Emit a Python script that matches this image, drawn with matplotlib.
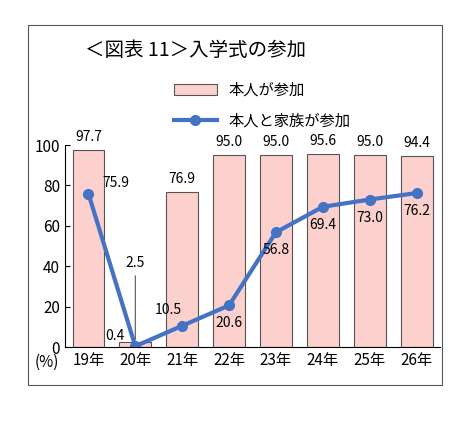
import matplotlib.pyplot as plt
import matplotlib.patches as patches

plt.rcParams['font.family'] = ['Noto Sans CJK JP', 'DejaVu Sans']

years = ["19年", "20年", "21年", "22年", "23年", "24年", "25年", "26年"]
self_only = [97.7, 2.5, 76.9, 95.0, 95.0, 95.6, 95.0, 94.4]
with_family = [75.9, 0.4, 10.5, 20.6, 56.8, 69.4, 73.0, 76.2]

fig = plt.figure(figsize=(4.58, 4.48), dpi=100)
fig.patches.append(patches.Rectangle((28 / 458, 1 - 385 / 448), 414 / 458, 360 / 448,
                                     transform=fig.transFigure, fill=False,
                                     edgecolor='#555555', linewidth=0.8))
ax = fig.add_axes([65 / 458, 101 / 448, 375 / 458, 202 / 448])

x = list(range(len(years)))
bars = ax.bar(x, self_only, width=0.68, color='#fcd0cc', edgecolor='#555555', linewidth=0.8,
              label='本人が参加')
line, = ax.plot(x, with_family, color='#4472c4', linewidth=3, marker='o', markersize=7,
                label='本人と家族が参加')

ax.set_xlim(-0.5, len(years) - 0.5)
ax.set_ylim(0, 100)
ax.set_yticks(range(0, 101, 20))
ax.set_xticks(x)
ax.set_xticklabels(years, fontsize=11)
ax.tick_params(axis='y', labelsize=11, direction='in')
ax.tick_params(axis='x', length=0)
for s in ['top', 'right']:
    ax.spines[s].set_visible(False)

# bar labels
for i, v in enumerate(self_only):
    if i == 1:
        ax.annotate(f"{v:.1f}", xy=(i, v), xytext=(i, 38), ha='center', va='bottom',
                    fontsize=10, arrowprops=dict(arrowstyle='-', color='#555555', lw=0.8))
    else:
        ax.text(i, v + 3, f"{v:.1f}", ha='center', va='bottom', fontsize=10)

# line labels
offsets = [(10, 3, 'left', 'bottom'), (-8, 2, 'right', 'bottom'), (-10, 6, 'center', 'bottom'),
           (0, -8, 'center', 'top'), (0, -8, 'center', 'top'), (0, -8, 'center', 'top'),
           (0, -8, 'center', 'top'), (0, -8, 'center', 'top')]
for i, v in enumerate(with_family):
    dx, dy, ha, va = offsets[i]
    ax.annotate(f"{v:.1f}", xy=(i, v), xytext=(dx, dy), textcoords='offset points',
                ha=ha, va=va, fontsize=10)

fig.text(35 / 458, 1 - 362 / 448, "(%)", fontsize=11, va='center')
fig.text(85 / 458, 1 - 50 / 448, "＜図表 11＞入学式の参加", fontsize=14, va='center')
fig.legend(handles=[bars, line], loc='upper left', bbox_to_anchor=(160 / 458, 1 - 68 / 448),
           frameon=False, fontsize=11, handlelength=2.8, labelspacing=0.9)

fig.savefig("out.png", dpi=100)
